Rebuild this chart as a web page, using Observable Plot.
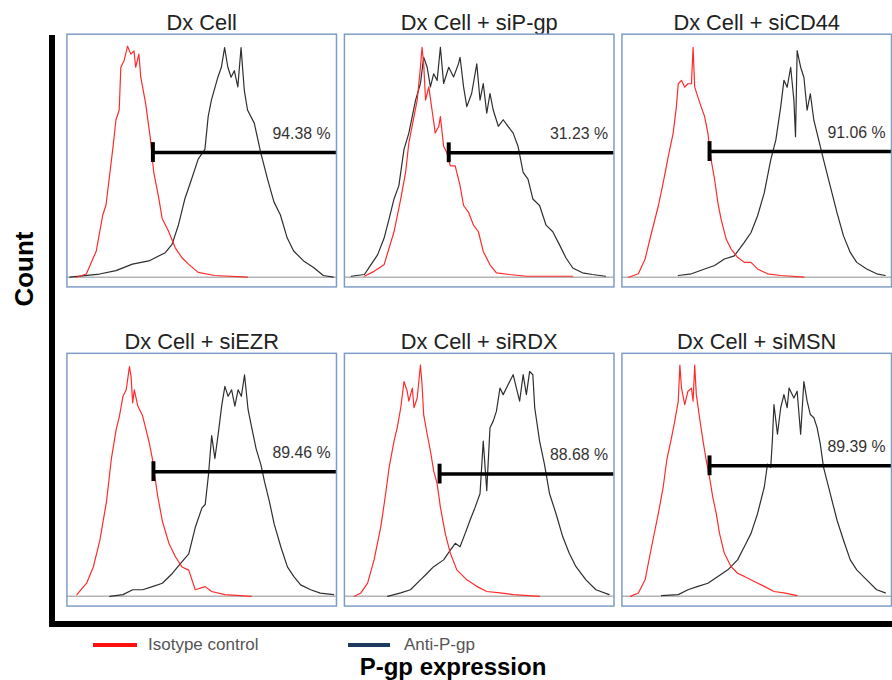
<!DOCTYPE html>
<html>
<head>
<meta charset="utf-8">
<script src="https://cdn.jsdelivr.net/npm/d3@7"></script>
<script src="https://cdn.jsdelivr.net/npm/@observablehq/plot@0.6"></script>
<style>
  html, body { margin: 0; padding: 0; background: #fff; }
  body { width: 892px; height: 680px; overflow: hidden; position: relative; font-family: "Liberation Sans", Arial, sans-serif; }
  #chart { position: absolute; left: 0; top: 0; }
  .abs { position: absolute; }
</style>
</head>
<body>
<div id="chart"></div>
<div class="abs" style="left:49px; top:35px; width:6px; height:592px; background:#000"></div>
<div class="abs" style="left:49px; top:621px; width:850px; height:6px; background:#000"></div>
<div class="abs" id="ylab" style="left:24px; top:269px; transform:translate(-50%,-50%) rotate(-90deg); font-weight:bold; font-size:26px; color:#000; white-space:nowrap; line-height:1">Count</div>
<div class="abs" style="left:93px; top:643px; width:44px; height:4px; background:#ff1010"></div>
<div class="abs" id="leg1" style="left:148px; top:634px; font-size:17px; color:#555; line-height:22px; white-space:nowrap"></div>
<div class="abs" style="left:348px; top:643px; width:42px; height:4px; background:#1f3a5f"></div>
<div class="abs" id="leg2" style="left:404px; top:634px; font-size:17px; color:#555; line-height:22px; white-space:nowrap"></div>
<div class="abs" id="xlab" style="left:453px; top:655px; transform:translateX(-50%); font-weight:bold; font-size:24px; color:#000; white-space:nowrap; line-height:1">P-gp expression</div>
<script>
// ---- data (x: fluorescence channel 0-100, y: count, 100 = panel top) ----
const titles = ["Dx Cell", "Dx Cell + siP-gp", "Dx Cell + siCD44", "Dx Cell + siEZR", "Dx Cell + siRDX", "Dx Cell + siMSN"];
const percents = ["94.38 %", "31.23 %", "91.06 %", "89.46 %", "88.68 %", "89.39 %"];
const gateStart = [31.9, 38.7, 32.5, 32.1, 35.3, 32.5];
const gateLevel = [51.3, 51.2, 51.7, 51.3, 50.3, 53.7];
const seriesNames = ["Isotype control", "Anti-P-gp"];

const iso1 = [[3.5,0],[7.2,1.3],[10.9,10.8],[13.3,25.6],[14.5,29.7],[17.0,52.6],[18.2,64.8],[19.4,68.8],[20.0,86.4],[21.2,89.1],[22.5,95.1],[23.7,91.8],[24.9,93.1],[25.5,86.4],[26.7,91.8],[27.4,82.3],[29.2,71.5],[31.0,56.7],[32.2,43.2],[34.1,32.4],[35.3,24.3],[37.7,18.9],[40.2,12.1],[42.6,8.1],[45.1,5.4],[48.7,2.0],[54.8,0.7],[67.0,0]];
const anti1 = [[1.1,0],[12.1,1.3],[18.2,2.7],[24.3,5.4],[30.4,6.7],[36.5,10.1],[39.0,13.5],[41.4,21.6],[43.8,32.4],[46.3,40.5],[48.7,48.6],[51.2,52.6],[52.4,66.1],[53.6,72.9],[56.0,82.3],[57.3,86.4],[58.5,94.5],[59.7,86.4],[60.9,82.3],[62.1,85.0],[63.4,78.3],[64.6,94.5],[65.8,76.9],[67.0,68.8],[69.5,63.4],[71.9,51.3],[74.4,40.5],[76.8,31.0],[79.2,25.6],[81.7,16.2],[84.1,10.8],[87.8,6.7],[91.5,4.0],[95.1,0.7],[98.8,0]];

const iso2 = [[7.4,0.4],[11.0,2.4],[14.7,5.1],[18.4,18.7],[20.9,32.2],[22.7,43.1],[23.9,55.3],[25.8,66.1],[27.0,72.9],[28.2,86.4],[28.8,94.6],[29.4,87.8],[30.1,72.9],[30.7,75.6],[31.3,78.3],[32.5,68.8],[33.7,59.3],[35.0,62.1],[35.6,66.1],[36.8,53.9],[38.0,51.2],[39.3,45.8],[41.1,45.8],[42.9,37.7],[44.2,29.5],[46.0,26.8],[47.9,21.4],[49.7,18.7],[51.5,10.6],[54.0,5.1],[56.4,1.8],[61.3,1.1],[67.5,0.4],[84.7,0.4]];
const anti2 = [[2.5,0.4],[7.4,1.1],[9.8,5.1],[12.3,9.2],[14.7,16.0],[16.6,24.1],[18.4,32.2],[20.2,37.7],[22.1,52.6],[23.9,59.3],[26.4,72.9],[28.2,79.7],[29.4,90.5],[30.7,86.4],[31.9,78.3],[33.1,83.7],[34.4,81.0],[35.6,94.6],[36.8,79.7],[38.7,86.4],[40.5,82.4],[42.3,87.8],[42.9,90.5],[44.2,78.3],[45.4,70.2],[47.2,75.6],[49.1,87.8],[50.3,72.9],[51.5,79.7],[52.8,67.5],[54.0,75.6],[55.2,68.8],[57.1,62.1],[58.9,64.8],[60.7,62.1],[62.6,59.3],[64.4,53.9],[66.3,43.1],[68.1,40.4],[69.9,32.2],[72.4,29.5],[74.8,21.4],[77.3,18.7],[79.8,13.3],[82.2,7.9],[84.7,3.8],[88.3,1.8],[92.0,1.1],[96.9,0.4]];

const iso3 = [[2.5,0],[6.1,1.4],[8.6,7.5],[11.0,18.4],[13.5,29.3],[15.3,38.8],[17.2,49.7],[19.0,59.2],[20.2,70.1],[20.9,79.6],[22.1,81.0],[23.3,78.2],[24.5,79.6],[25.8,79.6],[26.4,94.6],[27.0,78.2],[28.2,74.1],[29.4,70.1],[30.7,66.0],[31.9,59.2],[33.1,48.3],[34.4,40.1],[35.6,30.6],[36.8,23.8],[38.7,15.6],[40.5,11.6],[42.9,8.2],[45.4,6.1],[47.9,6.1],[50.3,3.4],[54.0,1.4],[58.9,0.7],[67.5,0]];
const anti3 = [[20.9,0.7],[25.8,1.4],[30.7,3.4],[34.4,4.8],[38.0,7.5],[41.7,8.8],[45.4,14.3],[47.9,18.4],[50.3,25.2],[52.8,34.7],[55.2,48.3],[57.1,56.5],[58.9,70.1],[60.1,81.0],[61.3,78.2],[62.6,86.4],[63.8,72.8],[64.4,57.8],[65.0,93.2],[66.3,86.4],[67.5,82.3],[68.7,68.7],[69.9,75.5],[71.2,64.6],[72.4,59.2],[73.6,53.7],[74.8,48.3],[77.3,37.4],[79.8,26.5],[82.2,17.0],[84.7,10.2],[87.1,6.1],[90.8,3.4],[94.5,1.4],[97.7,0.7]];

const iso4 = [[3.7,0.7],[7.3,5.4],[9.8,12.1],[12.2,22.9],[14.7,39.1],[16.5,56.7],[18.3,68.8],[19.5,74.2],[20.8,82.3],[22.0,85.0],[23.2,94.5],[23.8,90.4],[24.4,79.6],[25.0,85.0],[26.3,78.3],[28.1,74.2],[29.3,68.8],[30.5,63.4],[31.7,56.7],[33.6,41.8],[35.4,31.0],[37.9,21.6],[40.3,16.2],[42.7,12.1],[45.2,10.8],[47.6,2.7],[51.3,4.0],[53.7,2.0],[58.6,0.7],[68.4,0]];
const anti4 = [[15.9,0],[20.8,0.7],[24.4,2.7],[28.1,2.7],[31.7,4.0],[35.4,5.4],[39.1,9.4],[42.1,13.5],[45.2,17.5],[47.6,28.3],[50.1,36.4],[51.3,37.8],[52.5,49.9],[53.7,66.1],[54.9,56.7],[56.2,67.5],[57.4,78.3],[58.6,86.4],[59.8,82.3],[61.1,85.0],[62.3,78.3],[63.5,85.0],[64.7,82.3],[65.9,91.1],[67.2,76.9],[68.4,70.2],[70.2,60.7],[72.0,54.0],[73.3,47.2],[75.1,39.1],[76.9,29.7],[79.4,20.2],[81.8,12.1],[84.2,8.1],[86.7,4.7],[90.4,2.7],[94.0,1.3],[98.9,0.7]];

const iso5 = [[3.7,0],[6.1,1.4],[8.6,5.4],[11.0,15.0],[13.5,28.6],[15.3,42.2],[16.6,53.1],[18.4,63.9],[19.6,69.4],[20.9,77.6],[22.1,88.4],[23.3,84.4],[23.9,80.3],[25.2,85.7],[25.8,77.6],[27.0,81.6],[28.2,95.2],[28.8,87.1],[29.4,74.8],[30.7,66.7],[31.9,59.9],[33.1,51.7],[34.4,46.3],[35.6,36.7],[37.4,25.9],[39.3,17.7],[41.7,10.9],[45.4,6.8],[49.1,4.1],[52.8,2.0],[57.7,1.4],[62.6,0.7],[72.4,0]];
const anti5 = [[16.0,0],[20.9,1.4],[24.5,2.7],[28.2,6.8],[30.7,9.5],[33.1,12.2],[36.8,15.0],[39.3,19.0],[41.1,21.8],[42.9,20.4],[44.8,25.9],[46.6,31.3],[48.5,36.7],[50.3,42.2],[51.5,63.9],[52.8,43.5],[54.0,69.4],[55.2,72.1],[56.4,76.2],[57.7,85.7],[58.9,83.0],[60.7,87.1],[62.6,91.2],[63.8,85.7],[65.0,80.3],[66.3,91.2],[67.5,83.0],[68.7,92.5],[69.9,91.2],[70.6,77.6],[72.4,63.9],[74.2,54.4],[76.1,42.2],[78.5,34.0],[81.0,24.5],[83.4,17.7],[85.9,12.2],[89.6,6.8],[93.3,2.7],[98.2,0.7]];

const iso6 = [[3.1,0],[6.1,1.4],[8.6,6.8],[11.0,20.4],[13.5,34.0],[15.3,44.9],[16.6,55.8],[18.4,65.3],[19.6,72.1],[20.9,80.3],[21.5,95.2],[22.1,85.7],[23.3,78.9],[24.5,84.4],[25.8,85.7],[26.4,80.3],[27.0,95.2],[27.6,83.0],[28.8,73.5],[30.1,63.9],[31.3,55.8],[32.5,49.0],[33.7,40.8],[35.0,34.0],[36.2,25.9],[38.0,17.7],[40.5,12.2],[42.9,9.5],[45.4,8.2],[49.1,6.1],[52.8,4.1],[56.4,2.0],[60.1,1.4],[65.0,0.3]];
const anti6 = [[14.7,0.3],[20.9,0.7],[24.5,2.7],[28.2,4.1],[31.9,5.4],[35.6,8.2],[39.3,10.9],[42.9,15.0],[45.4,20.4],[47.9,25.9],[50.3,34.0],[52.8,44.9],[54.0,54.4],[55.2,53.1],[55.8,63.9],[56.4,78.9],[57.7,66.7],[58.9,77.6],[60.1,83.0],[61.3,77.6],[62.0,85.7],[63.8,81.6],[65.0,84.4],[66.3,66.7],[67.5,88.4],[68.7,80.3],[69.9,74.8],[71.2,73.5],[72.4,69.4],[73.6,62.6],[74.8,53.1],[77.3,42.2],[79.8,31.3],[82.2,23.1],[84.7,15.0],[87.1,10.9],[90.8,6.8],[94.5,2.7],[97.7,1.4]];

const isoCurves = [iso1, iso2, iso3, iso4, iso5, iso6];
const antiCurves = [anti1, anti2, anti3, anti4, anti5, anti6];
const xDomain = [0, 100];
const yDomain = [-4, 100];

// ---- build tables ----
const rows = [];
titles.forEach((t, i) => {
  isoCurves[i].forEach(([x, y]) => rows.push({panel: i, col: i % 3, row: Math.floor(i / 3), series: seriesNames[0], x, y}));
  antiCurves[i].forEach(([x, y]) => rows.push({panel: i, col: i % 3, row: Math.floor(i / 3), series: seriesNames[1], x, y}));
});
const panels = titles.map((t, i) => ({
  col: i % 3, row: Math.floor(i / 3), title: t, pct: percents[i], start: gateStart[i], level: gateLevel[i]
}));

document.getElementById("leg1").textContent = seriesNames[0];
document.getElementById("leg2").textContent = seriesNames[1];

const chart = Plot.plot({
  width: 900,
  height: 612,
  marginLeft: 66,
  marginRight: 0,
  marginTop: 33,
  marginBottom: 0,
  style: {background: "transparent", overflow: "visible"},
  x: {domain: xDomain, axis: null},
  y: {domain: yDomain, axis: null},
  fx: {domain: [0, 1, 2], axis: null, paddingInner: 0.027, paddingOuter: 0},
  fy: {domain: [0, 1], axis: null, paddingInner: 0.207, paddingOuter: 0},
  marks: [
    Plot.ruleY([0], {stroke: "#b4b4b4", strokeWidth: 1.5}),
    Plot.line(rows.filter(d => d.series === seriesNames[1]), {
      x: "x", y: "y", z: "panel", fx: "col", fy: "row",
      stroke: "#2e2e2e", strokeWidth: 1.2
    }),
    Plot.line(rows.filter(d => d.series === seriesNames[0]), {
      x: "x", y: "y", z: "panel", fx: "col", fy: "row",
      stroke: "#ff2a2a", strokeWidth: 1.2
    }),
    Plot.ruleY(panels, {
      fx: "col", fy: "row", y: "level", x1: "start", x2: () => xDomain[1],
      stroke: "#000", strokeWidth: 3.5
    }),
    Plot.ruleX(panels, {
      fx: "col", fy: "row", x: "start", y1: "level", y2: "level",
      insetTop: -10, insetBottom: -10, stroke: "#000", strokeWidth: 4
    }),
    Plot.text(panels, {
      fx: "col", fy: "row", y: "level", text: "pct",
      frameAnchor: "right", textAnchor: "end", dx: -6, dy: -19,
      fontSize: 16, fill: "#333", fontFamily: "Liberation Sans, Arial, sans-serif"
    }),
    Plot.text(panels, {
      fx: "col", fy: "row", text: "title",
      frameAnchor: "top", lineAnchor: "bottom", dy: -4,
      fontSize: 22, fill: "#222", fontFamily: "Liberation Sans, Arial, sans-serif"
    }),
    Plot.frame({stroke: "#7f9cc8", strokeWidth: 1.5})
  ]
});
document.getElementById("chart").appendChild(chart);
</script>
</body>
</html>
